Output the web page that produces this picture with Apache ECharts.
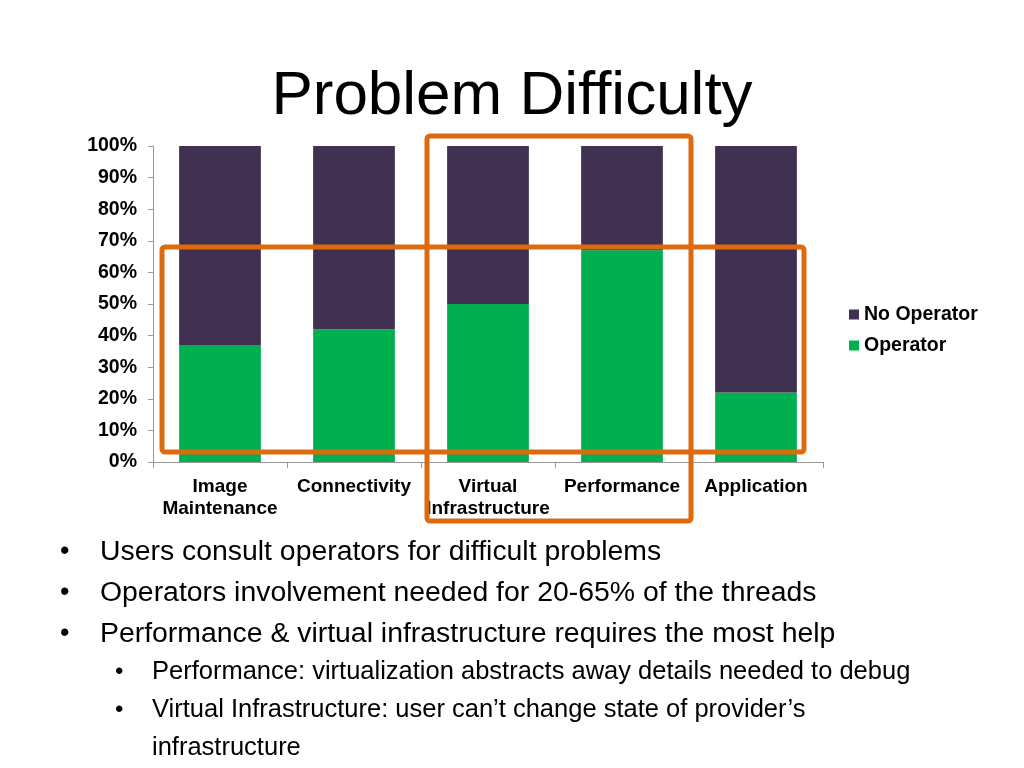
<!DOCTYPE html>
<html><head><meta charset="utf-8">
<script src="https://cdn.jsdelivr.net/npm/echarts@6/dist/echarts.min.js"></script>
<style>html,body{margin:0;padding:0;background:#fff}#c{width:1024px;height:768px}</style>
</head><body><div id="c"></div>
<script>
const categories = ['Image\nMaintenance', 'Connectivity', 'Virtual\nInfrastructure', 'Performance', 'Application'];
const operator = [37, 42, 50, 67, 22];
const noOperator = [63, 58, 50, 33, 78];
const yTicks = [0, 10, 20, 30, 40, 50, 60, 70, 80, 90, 100];
const bullets = [
  'Users consult operators for difficult problems',
  'Operators involvement needed for 20-65% of the threads',
  'Performance & virtual infrastructure requires the most help'
];
const subBullets = [
  'Performance: virtualization abstracts away details needed to debug',
  'Virtual Infrastructure: user can\u2019t change state of provider\u2019s',
  'infrastructure'
];

const chart = echarts.init(document.getElementById('c'));
const F = 'Liberation Sans, Arial, sans-serif';
const graphics = [
  {type:'text', left:'center', top:66, style:{text:'Problem Difficulty', font:'62px ' + F, fill:'#000'}},
  {type:'rect', shape:{x:162, y:247, width:642, height:205, r:3}, style:{fill:'none', stroke:'#DD6A0C', lineWidth:5}, z:100},
  {type:'rect', shape:{x:427, y:136, width:264, height:385, r:3}, style:{fill:'none', stroke:'#DD6A0C', lineWidth:5}, z:100}
];
const bY = [552, 593, 634];
bullets.forEach((t, i) => {
  graphics.push({type:'text', x:60, y:bY[i], style:{text:'\u2022', font:'27px ' + F, fill:'#000', verticalAlign:'middle'}});
  graphics.push({type:'text', x:100, y:bY[i], style:{text:t, font:'28.4px ' + F, fill:'#000', verticalAlign:'middle'}});
});
const sY = [672, 710, 748];
subBullets.forEach((t, i) => {
  if (i < 2) graphics.push({type:'text', x:115, y:sY[i], style:{text:'\u2022', font:'24px ' + F, fill:'#000', verticalAlign:'middle'}});
  graphics.push({type:'text', x:152, y:sY[i], style:{text:t, font:'25.5px ' + F, fill:'#000', verticalAlign:'middle'}});
});

chart.setOption({
  animation:false,
  grid:{left:153, right:201, top:146, bottom:306, containLabel:false},
  legend:{
    orient:'vertical', left:844, top:299, itemWidth:10, itemHeight:10, itemGap:10,
    icon:'rect',
    textStyle:{fontFamily:F, fontWeight:'bold', fontSize:19.5, color:'#000', lineHeight:21, padding:[0,0,0,0]},
    data:['No Operator', 'Operator']
  },
  xAxis:{
    type:'category', data:categories,
    axisLine:{lineStyle:{color:'#999'}},
    axisTick:{show:true, alignWithLabel:false, length:6, lineStyle:{color:'#999'}},
    axisLabel:{fontFamily:F, fontWeight:'bold', fontSize:19, color:'#000', lineHeight:22, margin:14, interval:0}
  },
  yAxis:{
    type:'value', min:0, max:100, interval:10,
    axisLine:{show:true, lineStyle:{color:'#999'}},
    axisTick:{show:true, length:5, lineStyle:{color:'#999'}},
    splitLine:{show:false},
    axisLabel:{fontFamily:F, fontWeight:'bold', fontSize:19.5, color:'#000', margin:16,
      formatter: v => yTicks.includes(v) ? v + '%' : ''}
  },
  series:[
    {name:'Operator', type:'bar', stack:'s', data:operator, barWidth:'61%', itemStyle:{color:'#00B050'}},
    {name:'No Operator', type:'bar', stack:'s', data:noOperator, barWidth:'61%', itemStyle:{color:'#403151'}}
  ],
  graphic:graphics
});
</script></body></html>
